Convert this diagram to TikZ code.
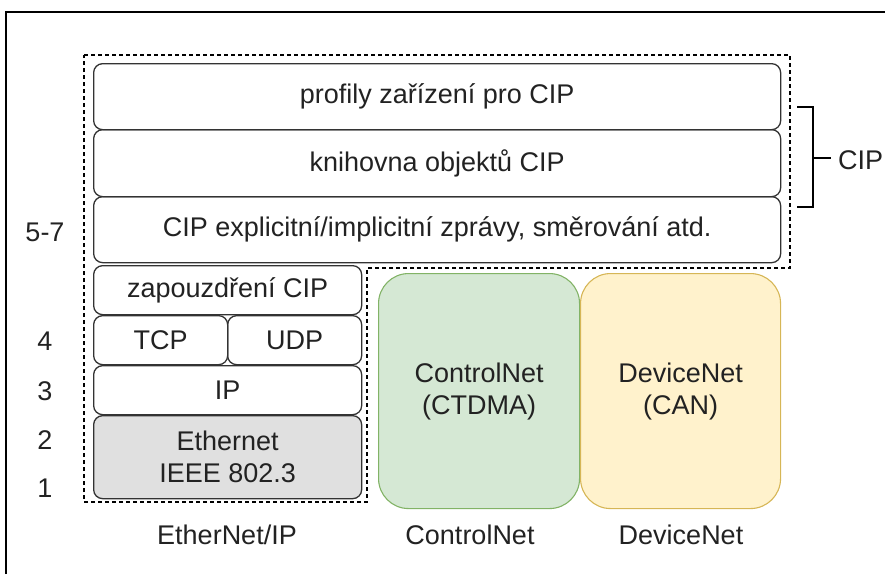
\documentclass[tikz,border=0pt]{standalone}
\usepackage{fontspec}
\setmainfont{Liberation Sans}
\usetikzlibrary{positioning}
\definecolor{cnfill}{HTML}{D5E8D4}
\definecolor{cndraw}{HTML}{82B366}
\definecolor{dnfill}{HTML}{FFF2CC}
\definecolor{dndraw}{HTML}{D6B656}
\definecolor{ethfill}{HTML}{E0E0E0}
\definecolor{txt}{HTML}{222222}

\begin{document}
\begin{tikzpicture}[x=1pt,y=-1pt,
  every node/.style={inner sep=0pt,text=txt,font=\fontsize{27}{32}\selectfont},
  layer/.style={draw=black!80,line width=1.3pt,rounded corners=9pt,anchor=north west,align=center},
  netbox/.style={layer,rounded corners=30pt,line width=1.1pt}]
\useasboundingbox (0,0) rectangle (885,574);
\draw[line width=2pt] (6,574) -- (6,12) -- (885,12);
% CIP part, dashed
\draw[line width=1.3pt,dash pattern=on 4pt off 3pt] (84,55) -- (790,55) -- (790,268) -- (367,268) -- (367,502) -- (84,502) -- cycle;
\node[layer,minimum width=687pt,minimum height=66pt] (prof) at (93,63) {profily zařízení pro CIP};
\node[layer,minimum width=687pt,minimum height=67pt] (knih) at (93,129) {knihovna objektů CIP};
\node[layer,minimum width=687pt,minimum height=66pt] (expl) at (93,196) {CIP explicitní/implicitní zprávy, směrování atd.};
% EtherNet/IP stack
\node[layer,minimum width=268pt,minimum height=49pt] (zapouz) at (93,265) {zapouzdření CIP};
\node[layer,minimum width=134pt,minimum height=49pt] (tcp) at (93,315) {TCP};
\node[layer,minimum width=134pt,minimum height=49pt] (udp) at (227,315) {UDP};
\node[layer,minimum width=268pt,minimum height=49pt] (ip) at (93,365) {IP};
\node[layer,fill=ethfill,minimum width=268pt,minimum height=83pt] (eth) at (93,415) {Ethernet\\IEEE 802.3};
% other networks
\node[netbox,fill=cnfill,draw=cndraw,minimum width=201pt,minimum height=235pt] (cnet) at (378,273) {ControlNet\\(CTDMA)};
\node[netbox,fill=dnfill,draw=dndraw,minimum width=200pt,minimum height=235pt] (dnet) at (580,273) {DeviceNet\\(CAN)};
% layer numbers
\node (l57) at (45,232) {5-7};
\node (l4) at (45,341) {4};
\node (l3) at (45,391) {3};
\node (l2) at (45,440) {2};
\node (l1) at (45,488) {1};
% names
\node (nameeth) at (227,535) {EtherNet/IP};
\node (namecn) at (470,535) {ControlNet};
\node (namedn) at (681,535) {DeviceNet};
% bracket
\node[anchor=west] (cip) at (838,160) {CIP};
\coordinate (brk) at (813,158);
\draw[line width=2.2pt] (797,107) -- (813,107) -- (813,207) -- (797,207);
\draw[line width=2.2pt] (brk) -- (831,158);
\end{tikzpicture}
\end{document}
